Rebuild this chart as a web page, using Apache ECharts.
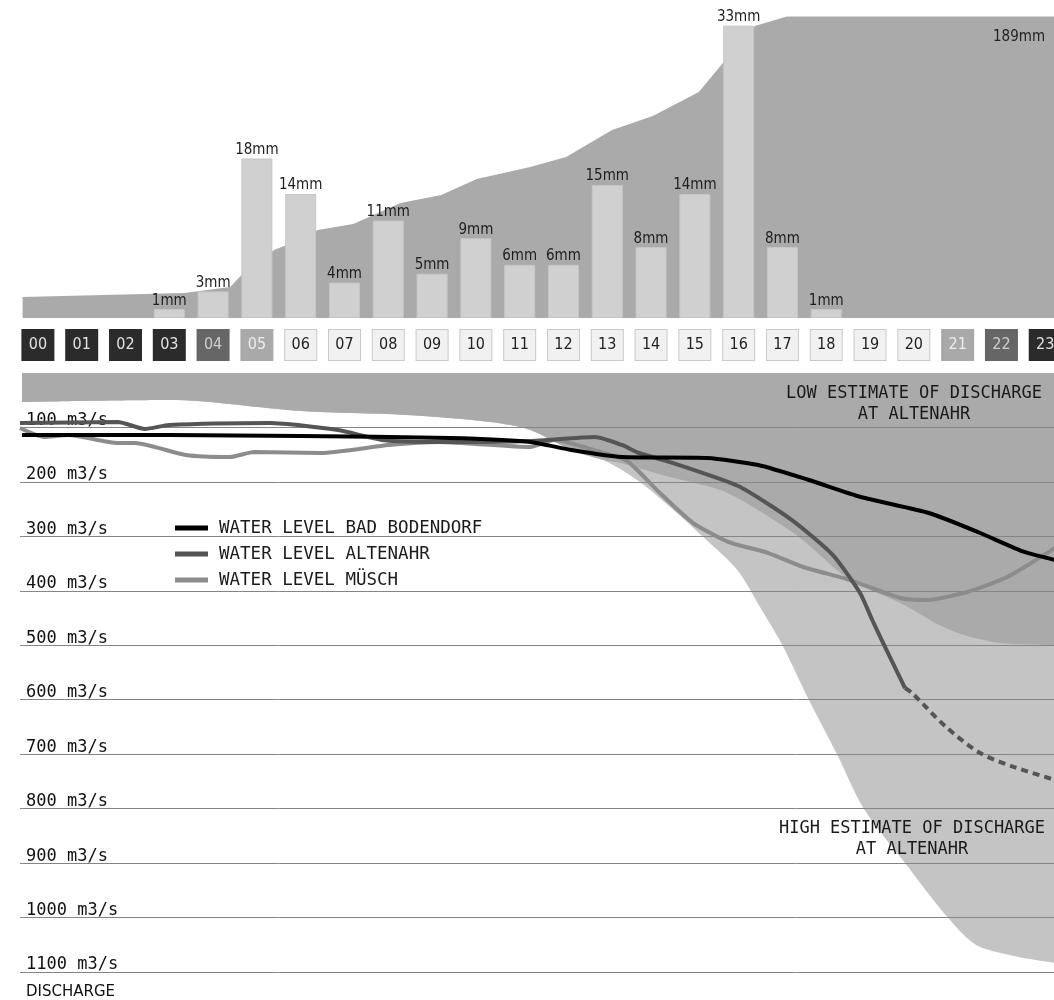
<!DOCTYPE html>
<html>
<head>
<meta charset="utf-8">
<script src="https://cdn.jsdelivr.net/npm/echarts@6/dist/echarts.min.js"></script>
<style>
  html, body { margin: 0; padding: 0; background: #fff; }
  #chart { width: 1054px; height: 1000px; }
</style>
</head>
<body>
<div id="chart"></div>
<script>
// hours of the day (boxes under the rain bars)
const hours = ['00','01','02','03','04','05','06','07','08','09','10','11',
  '12','13','14','15','16','17','18','19','20','21','22','23'];
// shade of each hour box (dark = night, light = day)
const hourShade = ['dk','dk','dk','dk','md','lt','wh','wh','wh','wh','wh','wh',
  'wh','wh','wh','wh','wh','wh','wh','wh','wh','lt','md','dk'];

// rainfall per hour, mm
const rainMm = [null, null, null, 1, 3, 18, 14, 4, 11, 5, 9, 6,
  6, 15, 8, 14, 33, 8, 1, null, null, null, null, null];

// cumulative rainfall [hour, mm]
const rainTotal = [[-0.35, 13.2], [3.34, 15.7], [4.39, 19.4], [4.65, 27], [5.39, 42.6],
  [5.68, 45.8], [6.39, 55.2], [7.2, 58.9], [8.28, 72.1], [9.21, 77.1], [10.02, 87.2],
  [11.24, 94.7], [12.06, 101], [13.11, 117.9], [14.04, 126.7], [15.09, 141.7],
  [15.66, 160.5], [16.37, 183.1], [17.1, 189], [23.3, 189]];

// discharge estimates at Altenahr [hour, m3/s]
const lowEstimate = [[-0.354, 53.3], [3.01, 49.6], [6.03, 69.8], [8.44, 77.1], [10.36, 90],
  [11.28, 104.7], [12.22, 141.4], [12.95, 159.8], [13.34, 165.3], [14.48, 191],
  [15.63, 214.9], [16.38, 246.1], [17.46, 303], [18.6, 380.2], [19.75, 422.4],
  [20.89, 472], [22.04, 495.9], [23.3, 499.5]];
const highEstimate = [[-0.354, 53.3], [3.01, 49.6], [6.03, 69.8], [8.44, 77.1], [10.36, 90],
  [11.28, 104.7], [12.22, 141.4], [12.95, 159.8], [13.73, 196.5], [14.48, 246.1],
  [15.24, 301.2], [16.02, 361.8], [16.54, 429.8], [17.05, 499.5], [17.66, 600.6],
  [18.3, 699.7], [18.92, 800.7], [19.86, 899.9], [20.87, 1002.8], [21.58, 1054.2],
  [23.3, 1083.6]];

// water levels [hour, m3/s]
const badBodendorf = [[-0.354, 113.9], [3.03, 113.9], [6.01, 115.7], [9.44, 119.4],
  [11.28, 126.7], [12.22, 141.4], [13.38, 154.3], [15.33, 156.1], [16.5, 169],
  [17.66, 196.5], [18.85, 227.7], [20.41, 257.1], [21.58, 293.8], [22.59, 328.7],
  [23.3, 343.4]];
const altenahr = [[-0.4, 91.8], [1.84, 90], [2.46, 102.8], [3.01, 95.5], [5.32, 91.8],
  [6.88, 104.7], [7.89, 123], [9.19, 126.7], [11.28, 124.9], [12.76, 117.5],
  [13.38, 132.2], [13.77, 146.9], [14.48, 163.5], [16.04, 207.5], [17.27, 270],
  [18.21, 334.3], [18.83, 404], [19.11, 453.6], [19.36, 495.9], [19.86, 578.5]];
// estimated continuation (dashed)
const altenahrEst = [[19.86, 578.5], [20.02, 587.7], [20.8, 650.1], [21.58, 697.9],
  [22.36, 723.6], [23.3, 747.5]];
const musch = [[-0.4, 101], [0.15, 117.5], [0.7, 113.9], [1.84, 128.6], [2.23, 128.6],
  [3.4, 150.6], [4.41, 154.3], [4.96, 145.1], [6.49, 146.9], [8.05, 132.2],
  [9.19, 126.7], [11.28, 135.9], [11.83, 123], [12.88, 145.1], [13.5, 161.6],
  [14.25, 220.4], [15.01, 275.5], [15.83, 310.4], [16.73, 330.6], [17.53, 356.3],
  [18.6, 380.2], [19.75, 413.2], [20.37, 416.9], [21.28, 402.2], [22.2, 374.7],
  [23.3, 321]];

const mono = 'DejaVu Sans Mono';
const narrow = '"DejaVu Sans Condensed", "Liberation Sans Narrow", "DejaVu Sans"';

function box(bg, fg, border) {
  return {
    width: 31, height: 30, lineHeight: 30, align: 'center',
    backgroundColor: bg, color: fg, borderColor: border || bg, borderWidth: 1,
    fontSize: 16, fontFamily: narrow
  };
}

// hour label in its box, only on whole hours
function hourLabel(v) {
  const i = Math.round(v);
  if (Math.abs(v - i) > 1e-6 || i < 0 || i > 23) return '';
  return '{' + hourShade[i] + '|' + hours[i] + '}';
}

const chart = echarts.init(document.getElementById('chart'));

const option = {
  animation: false,
  backgroundColor: '#fff',
  // labels may run off the right edge, the picture is cut there
  grid: [
    { left: 16, right: 0, top: 15, height: 303, outerBoundsMode: 'none' },
    { left: 20, right: 0, top: 373, height: 599, outerBoundsMode: 'none' }
  ],
  xAxis: [
    // the picture is cut near 23.2 h, box 23 is only half visible
    {
      type: 'value', gridIndex: 0, min: -0.5, max: 23.2, interval: 0.5,
      axisLine: { show: false }, axisTick: { show: false }, splitLine: { show: false },
      axisLabel: {
        margin: 12, formatter: hourLabel,
        rich: {
          dk: box('#2b2b2b', '#e2e2e2'),
          md: box('#666666', '#d0d0d0'),
          lt: box('#a9a9a9', '#eeeeee'),
          wh: box('#f1f1f1', '#222222', '#c9c9c9')
        }
      }
    },
    { type: 'value', gridIndex: 1, min: -0.4, max: 23.27, show: false }
  ],
  yAxis: [
    { type: 'value', gridIndex: 0, min: 0, max: 34.2, show: false },
    { type: 'value', gridIndex: 0, min: 0, max: 190, show: false },
    {
      type: 'value', gridIndex: 1, min: 0, max: 1100, interval: 100, inverse: true,
      z: 2,
      axisLine: { show: false }, axisTick: { show: false },
      splitLine: { show: true, showMinLine: false, lineStyle: { color: '#858585', width: 1 } },
      axisLabel: {
        inside: true, margin: 6, verticalAlign: 'bottom', showMinLabel: false,
        formatter: v => v + ' m3/s',
        fontFamily: mono, fontSize: 17, color: '#111', lineHeight: 14
      }
    }
  ],
  legend: {
    orient: 'vertical', left: 170, top: 514,
    itemWidth: 33, itemHeight: 5, itemGap: 8, icon: 'rect',
    data: ['WATER LEVEL BAD BODENDORF', 'WATER LEVEL ALTENAHR', 'WATER LEVEL MÜSCH'],
    textStyle: { fontFamily: mono, fontSize: 17.5, color: '#1a1a1a', lineHeight: 18,
      padding: [0, 0, 0, 6] },
    selectedMode: false
  },
  graphic: [
    { type: 'text', z: 10, left: 993, top: 30,
      style: { text: '189mm', font: '15px ' + narrow, fill: '#222' } },
    { type: 'text', z: 10, x: 914, y: 383,
      style: { text: 'LOW ESTIMATE OF DISCHARGE\nAT ALTENAHR', font: '17px ' + mono,
        fill: '#1a1a1a', align: 'center', lineHeight: 21 } },
    { type: 'text', z: 10, x: 912, y: 818,
      style: { text: 'HIGH ESTIMATE OF DISCHARGE\nAT ALTENAHR', font: '17px ' + mono,
        fill: '#1a1a1a', align: 'center', lineHeight: 21 } },
    { type: 'text', z: 10, left: 26, top: 985,
      style: { text: 'DISCHARGE', font: '15px DejaVu Sans', fill: '#111' } }
  ],
  series: [
    // cumulative rain
    {
      type: 'line', xAxisIndex: 0, yAxisIndex: 1, data: rainTotal,
      symbol: 'none', lineStyle: { width: 0 }, z: 1,
      areaStyle: { color: '#aaaaaa', opacity: 1 }
    },
    // hourly rain
    {
      type: 'bar', xAxisIndex: 0, yAxisIndex: 0, barWidth: 31, z: 3,
      data: rainMm.map((v, i) => [i, v]).filter(d => d[1] != null),
      itemStyle: { color: '#d0d0d0', borderColor: '#c6c6c6', borderWidth: 1 },
      label: {
        show: true, position: 'top', distance: 1, formatter: p => p.value[1] + 'mm',
        fontFamily: narrow, fontSize: 15, color: '#1e1e1e'
      }
    },
    // discharge estimates
    {
      name: 'high', type: 'line', xAxisIndex: 1, yAxisIndex: 2, data: highEstimate,
      symbol: 'none', smooth: 0.3, lineStyle: { width: 0 }, z: 1,
      areaStyle: { color: '#c4c4c4', opacity: 1 }
    },
    {
      name: 'low', type: 'line', xAxisIndex: 1, yAxisIndex: 2, data: lowEstimate,
      symbol: 'none', smooth: 0.3, lineStyle: { width: 0 }, z: 1,
      areaStyle: { color: '#aaaaaa', opacity: 1 }
    },
    // water levels
    {
      name: 'WATER LEVEL MÜSCH', type: 'line', xAxisIndex: 1, yAxisIndex: 2, data: musch,
      symbol: 'none', smooth: 0.2, z: 3, color: '#8c8c8c',
      lineStyle: { color: '#8c8c8c', width: 4 }
    },
    {
      name: 'WATER LEVEL ALTENAHR', type: 'line', xAxisIndex: 1, yAxisIndex: 2, data: altenahr,
      symbol: 'none', smooth: 0.2, z: 3, color: '#555555',
      lineStyle: { color: '#555555', width: 4 }
    },
    {
      name: 'altenahr estimate', type: 'line', xAxisIndex: 1, yAxisIndex: 2, data: altenahrEst,
      symbol: 'none', smooth: 0.3, z: 3,
      lineStyle: { color: '#555555', width: 4, type: [7, 5] }
    },
    {
      name: 'WATER LEVEL BAD BODENDORF', type: 'line', xAxisIndex: 1, yAxisIndex: 2,
      data: badBodendorf, symbol: 'none', smooth: 0.2, z: 3, color: '#000000',
      lineStyle: { color: '#000000', width: 4 }
    }
  ]
};

chart.setOption(option);
</script>
</body>
</html>
